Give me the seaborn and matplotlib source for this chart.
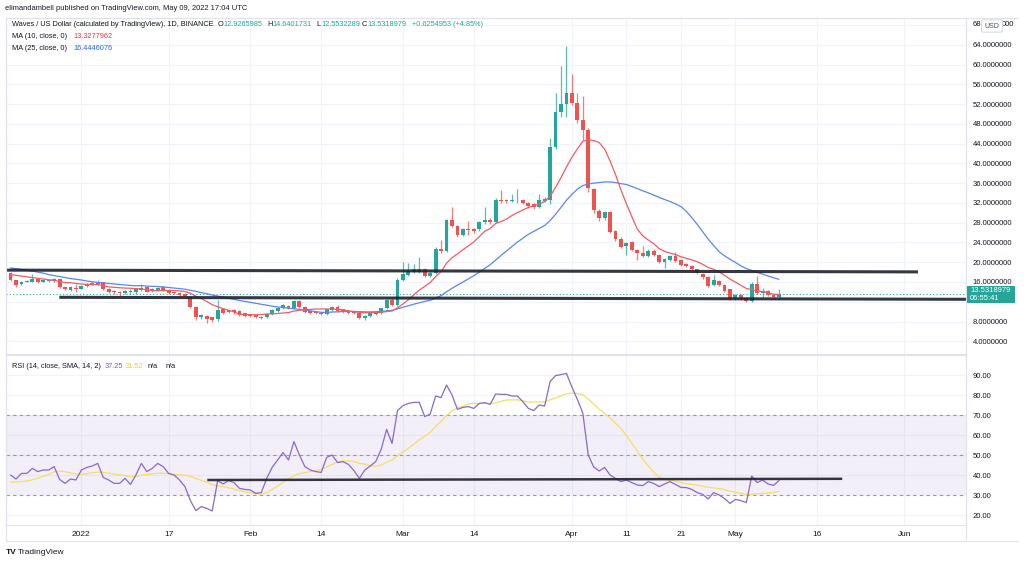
import numpy as np
import pandas as pd
import matplotlib
matplotlib.use("Agg")
import matplotlib.pyplot as plt
import seaborn as sns
from matplotlib.patches import Rectangle, FancyBboxPatch
from matplotlib.lines import Line2D

# ---------------- data (daily WAVES/USD candles, Dec 19 2021 .. May 09 2022) ----------------
start_date = "2021-12-19"
end_date = "2022-05-09"

opens = [
    17.75, 16.4, 15.5, 16.0, 16.1, 16.6, 16.05, 16.3, 16.3, 16.55,
    14.9, 14.4, 14.75, 14.65, 15.2, 15.55, 15.6, 15.95, 14.5, 14.2,
    13.9, 13.7, 13.97, 13.9, 14.4, 14.9, 14.2, 14.4, 14.9, 14.3,
    14.0, 13.8, 13.5, 12.9, 11.0, 9.0, 9.1, 8.85, 8.45, 10.45,
    9.9, 10.3, 10.2, 9.65, 9.45, 9.3, 8.8, 8.98, 9.5, 10.2,
    10.7, 11.15, 10.65, 12.2, 11.0, 10.2, 10.0, 9.8, 9.5, 10.35,
    10.9, 10.45, 10.2, 10.0, 9.8, 8.65, 9.1, 9.5, 9.8, 10.65,
    12.45, 11.4, 16.4, 17.4, 18.1, 18.1, 18.55, 17.3, 17.9, 22.6,
    22.35, 28.55, 27.4, 25.5, 26.7, 26.65, 26.65, 28.1, 28.55, 28.1,
    32.7, 32.6, 32.45, 32.5, 32.6, 32.06, 31.8, 31.25, 32.45, 32.6,
    43.3, 50.5, 52.0, 54.3, 52.2, 48.8, 46.8, 34.8, 30.4, 28.9,
    30.2, 26.4, 24.8, 23.3, 24.15, 22.5, 21.8, 21.3, 22.35, 21.5,
    20.1, 20.45, 21.25, 20.45, 19.6, 19.24, 18.57, 17.6, 17.08, 15.4,
    16.27, 15.39, 14.5, 12.7, 13.37, 12.7, 12.2, 15.6, 13.85, 14.2,
    13.37, 12.9265985,
]
highs = [
    18.1, 16.5, 16.2, 16.4, 17.6, 16.8, 16.6, 16.6, 16.9, 16.7,
    15.0, 15.1, 15.6, 15.4, 15.8, 16.0, 16.5, 16.1, 14.7, 14.4,
    14.1, 14.4, 14.6, 14.7, 15.6, 15.1, 14.7, 14.9, 15.1, 14.5,
    14.2, 13.9, 13.7, 13.2, 11.2, 9.6, 9.3, 9.0, 12.35, 10.6,
    10.4, 10.5, 10.3, 9.8, 9.6, 9.4, 9.2, 9.6, 10.5, 11.0,
    11.5, 11.4, 12.4, 12.4, 11.2, 10.4, 10.1, 9.9, 10.6, 11.2,
    11.4, 10.6, 10.3, 10.1, 9.9, 9.3, 9.8, 10.1, 10.8, 12.6,
    12.7, 16.8, 20.1, 19.8, 19.6, 21.1, 18.8, 18.2, 23.0, 24.5,
    28.8, 31.1, 27.6, 26.9, 28.4, 27.0, 28.3, 31.2, 28.9, 33.0,
    34.6, 32.9, 33.8, 34.9, 32.8, 32.2, 31.9, 33.9, 33.2, 45.1,
    54.3, 59.7, 63.8, 58.2, 54.2, 53.6, 47.2, 35.1, 30.7, 30.4,
    30.4, 26.6, 25.1, 24.1, 24.4, 22.7, 23.3, 22.6, 22.6, 21.7,
    20.8, 21.5, 22.1, 20.6, 19.8, 19.4, 18.7, 17.8, 17.3, 17.4,
    16.5, 15.5, 14.6, 13.6, 13.5, 12.9, 15.9, 17.2, 14.7, 14.4,
    13.5, 14.6401731,
]
lows = [
    16.2, 15.05, 15.3, 15.9, 16.0, 15.8, 15.9, 16.1, 16.1, 14.8,
    14.3, 14.2, 14.0, 14.5, 15.0, 15.3, 15.4, 14.3, 13.8, 13.6,
    13.2, 13.5, 13.6, 13.5, 14.2, 13.9, 14.0, 14.2, 14.1, 13.6,
    13.5, 13.1, 12.9, 10.7, 8.4, 8.6, 7.8, 8.0, 8.2, 9.6,
    9.7, 9.6, 9.1, 9.0, 9.0, 8.7, 8.5, 8.8, 9.4, 10.0,
    10.5, 10.5, 10.5, 10.8, 9.8, 9.6, 9.5, 9.3, 9.4, 10.2,
    10.0, 9.8, 9.6, 9.5, 8.5, 8.4, 9.0, 9.3, 9.6, 10.5,
    11.2, 11.2, 16.2, 17.2, 17.9, 17.9, 17.1, 17.0, 17.7, 21.9,
    22.0, 27.2, 25.2, 25.3, 25.5, 25.9, 26.3, 27.8, 27.8, 27.9,
    31.9, 32.0, 32.1, 32.0, 31.7, 30.9, 30.8, 31.0, 32.1, 31.8,
    43.0, 49.3, 49.3, 51.8, 48.2, 44.7, 34.3, 30.0, 28.4, 28.6,
    26.0, 24.4, 22.9, 21.5, 22.2, 20.5, 21.1, 21.1, 21.3, 19.9,
    18.8, 20.2, 20.1, 19.2, 19.0, 18.4, 17.6, 16.7, 14.9, 15.2,
    15.2, 14.0, 12.4, 12.3, 12.4, 12.0, 12.0, 13.6, 13.0, 13.2,
    12.6, 12.5532289,
]
closes = [
    16.4, 15.4, 16.0, 16.25, 16.6, 16.0, 16.4, 16.4, 16.6, 14.9,
    14.5, 14.9, 14.6, 15.2, 15.6, 15.85, 16.05, 14.5, 14.05, 13.9,
    13.7, 14.25, 14.24, 14.5, 14.85, 14.05, 14.5, 14.7, 14.25, 13.85,
    13.7, 13.35, 13.15, 10.9, 8.85, 9.3, 8.45, 8.3, 10.35, 9.8,
    10.25, 9.85, 9.3, 9.2, 9.2, 8.85, 9.0, 9.5, 10.35, 10.8,
    11.35, 10.65, 12.2, 11.0, 10.0, 9.8, 9.65, 9.5, 10.45, 10.9,
    10.2, 10.0, 9.8, 9.65, 8.65, 9.1, 9.65, 10.0, 10.65, 12.4,
    11.4, 16.4, 17.6, 18.3, 18.55, 18.55, 17.3, 17.9, 22.6, 22.3,
    28.55, 27.4, 25.5, 26.65, 26.55, 26.4, 28.1, 28.55, 28.1, 32.7,
    32.45, 32.45, 32.6, 32.6, 31.9, 31.4, 31.25, 32.7, 32.9, 43.3,
    50.5, 52.0, 54.3, 52.2, 48.7, 46.8, 35.0, 30.6, 28.9, 30.2,
    26.2, 24.8, 23.15, 23.95, 22.5, 21.8, 21.3, 22.35, 21.5, 20.1,
    20.6, 21.25, 20.3, 19.45, 19.25, 18.57, 17.76, 16.95, 15.19, 16.4,
    15.39, 14.25, 12.7, 13.37, 12.7, 12.2, 15.6, 13.85, 14.25, 13.37,
    12.9265985, 13.5318979,
]
# MA values at the start of the window (before the rolling window fills)
ma10_head = [17.5, 17.35, 17.2, 17.05, 16.9, 16.75, 16.6, 16.45, 16.35]
ma25_head = [18.85, 18.7, 18.55, 18.4, 18.2, 18.0, 17.8, 17.5, 17.3, 17.1, 16.9, 16.7,
             16.55, 16.4, 16.2, 16.05, 15.9, 15.8, 15.7, 15.6, 15.5, 15.4, 15.3, 15.25]

rsi = [
    40, 38, 40.8, 40.8, 43.3, 41.7, 42.5, 42.5, 44.2, 37.8,
    35.8, 38, 37.5, 42.5, 43.8, 44.5, 45.8, 38.8, 37.5, 35.8,
    35.8, 38.3, 35.3, 40, 45.8, 41.7, 43.3, 45.8, 44.2, 40.8,
    40, 37.5, 34.2, 27.2, 22.2, 24.2, 23.3, 22, 37.2, 35.5,
    37.2, 36.2, 33.3, 32.8, 32.5, 30.8, 31.2, 38.3, 43.8, 47.5,
    51.2, 47.5, 56.7, 50, 44.2, 42.5, 41.7, 41.3, 48.8, 50,
    46.2, 46.7, 45.3, 42.2, 38.3, 42.5, 44.5, 46.7, 52.8, 62.8,
    55.8, 72.2, 74.7, 75.8, 76.3, 76.3, 69.2, 70.5, 79.5, 78.7,
    85, 80, 72.8, 73.8, 74.2, 73.3, 75.8, 76.2, 75.3, 80.5,
    80.3, 80.3, 79.5, 79.5, 76.7, 73.3, 72.2, 75, 74.5, 86.7,
    89.7, 90.2, 90.8, 84, 77.8, 71, 50, 44, 42, 43.8,
    40, 38.3, 36.7, 37.5, 36.2, 35, 34.7, 36.7, 35.8, 34.2,
    35.5, 36.7, 35.3, 33.8, 33.7, 32.8, 31.2, 30.3, 28, 31.2,
    30, 28.3, 25.8, 27.8, 27.2, 26.2, 39.5, 36.2, 37.5, 35.5,
    34.8, 37.25,
]
rsi_ma_head = [36.4, 36.5, 36.7, 37.0, 37.6, 38.4, 39.3, 40.4, 41.6, 42.0, 41.7, 41.0, 40.5]

tick_dates = ["2022-01-01", "2022-01-17", "2022-02-01", "2022-02-14", "2022-03-01", "2022-03-14",
              "2022-04-01", "2022-04-11", "2022-04-21", "2022-05-01", "2022-05-16", "2022-06-01"]
tick_labels = ["2022", "17", "Feb", "14", "Mar", "14", "Apr", "11", "21", "May", "16", "Jun"]
price_ticks = [4, 8, 16, 20, 24, 28, 32, 36, 40, 44, 48, 52, 56, 60, 64]
price_grid = [4, 8, 12, 16, 20, 24, 28, 32, 36, 40, 44, 48, 52, 56, 60, 64, 68]
rsi_ticks = [20, 30, 40, 50, 60, 70, 80, 90]

# drawn trend lines (days from 2022-01-01, price / RSI)
resistance_x, resistance_y = [-13.8, 153.5], [18.4, 18.05]
support_x, support_y = [-4.05, 162.4], [12.9, 12.5]
rsi_line_x, rsi_line_y = [23.1, 139.6], [37.5, 38.1]

# ---------------- style ----------------
GREEN = "#26a69a"
RED = "#ef5350"
MA10_C = "#f25c63"
MA25_C = "#5a86f0"
RSI_C = "#7e57c2"
RSIMA_C = "#f3df62"
TXT = "#131722"
GRID = "#f0f3fa"
BORDER = "#e0e3eb"
LINE_C = "#1e222d"
FS = 5.3

sns.set_theme(style="white")
plt.rcParams["font.family"] = ["Liberation Sans", "DejaVu Sans"]

W, H = 1024, 565
fig = plt.figure(figsize=(W / 100, H / 100), dpi=100)
fig.patch.set_facecolor("white")


def rect(x0, y0, x1, y1):
    return [x0 / W, 1 - y1 / H, (x1 - x0) / W, (y1 - y0) / H]


PL, PR = 6, 966
axp = fig.add_axes(rect(PL, 18, PR, 354))
axr = fig.add_axes(rect(PL, 355, PR, 525))

dates = pd.date_range(start_date, end_date, freq="D")
x = (dates - pd.Timestamp("2022-01-01")).days.to_numpy().astype(float)
o, hgh, low, c = (np.asarray(v, float) for v in (opens, highs, lows, closes))

X_LEFT = (PL - 81.4) / 5.45
X_RIGHT = (PR - 81.4) / 5.45
tick_x = (pd.to_datetime(tick_dates) - pd.Timestamp("2022-01-01")).days.to_numpy()

# ---------------- price pane ----------------
axp.set_facecolor("white")
for t in price_grid:
    axp.axhline(t, color=GRID, lw=0.8, zorder=0)
for t in tick_x:
    axp.axvline(t, color=GRID, lw=0.8, zorder=0)

up = c >= o
cols = np.where(up, GREEN, RED)
axp.vlines(x, low, hgh, colors=cols, lw=0.9, alpha=0.75, zorder=2)
body_b = np.minimum(o, c)
body_h = np.maximum(np.abs(c - o), 0.12)
axp.bar(x, body_h, bottom=body_b, width=0.7, color=cols, linewidth=0, zorder=3)

ser = pd.Series(c)
ma10 = ser.rolling(10).mean().to_numpy()
ma10[:len(ma10_head)] = ma10_head
ma25 = ser.rolling(25).mean().to_numpy()
ma25[:len(ma25_head)] = ma25_head
sns.lineplot(x=x, y=ma25, ax=axp, color=MA25_C, lw=0.9, zorder=4)
sns.lineplot(x=x, y=ma10, ax=axp, color=MA10_C, lw=0.9, zorder=4)

axp.plot(resistance_x, resistance_y, color=LINE_C, lw=2.2, alpha=0.9, zorder=5, solid_capstyle="butt")
axp.plot(support_x, support_y, color=LINE_C, lw=2.2, alpha=0.9, zorder=5, solid_capstyle="butt")
axp.axhline(c[-1], color=GREEN, lw=0.8, ls=(0, (1, 2)), zorder=1)

axp.set_xlim(X_LEFT, X_RIGHT)
axp.set_ylim(16 - (354 - 282) / 4.94, 16 + (282 - 18) / 4.94)
axp.yaxis.tick_right()
axp.set_yticks(price_ticks)
axp.set_yticklabels([f"{v:.7f}" for v in price_ticks])
axp.tick_params(axis="y", length=0, pad=5, labelsize=5.5, labelcolor=TXT)
axp.set_xticks([])
axp.set_xlabel("")
axp.set_ylabel("")
for s in axp.spines.values():
    s.set_color(BORDER)
    s.set_linewidth(0.8)

# ---------------- RSI pane ----------------
axr.set_facecolor("white")
for t in rsi_ticks:
    axr.axhline(t, color=GRID, lw=0.8, zorder=0)
for t in tick_x:
    axr.axvline(t, color=GRID, lw=0.8, zorder=0)
axr.axhspan(30, 70, color=RSI_C, alpha=0.09, lw=0, zorder=0.5)
for lvl in (70, 50, 30):
    axr.axhline(lvl, color="#9598a1", lw=0.8, ls=(0, (3, 3)), zorder=1)

rsi_arr = np.asarray(rsi, float)
rsi_ma = pd.Series(rsi_arr).rolling(14).mean().to_numpy()
rsi_ma[:len(rsi_ma_head)] = rsi_ma_head
sns.lineplot(x=x, y=rsi_ma, ax=axr, color=RSIMA_C, lw=0.9, zorder=3)
sns.lineplot(x=x, y=rsi_arr, ax=axr, color="#8a68c9", lw=0.9, zorder=4)
axr.plot(rsi_line_x, rsi_line_y, color=LINE_C, lw=1.8, alpha=0.9, zorder=5, solid_capstyle="butt")

axr.set_xlim(X_LEFT, X_RIGHT)
axr.set_ylim(15, 100)
axr.yaxis.tick_right()
axr.set_yticks(rsi_ticks)
axr.set_yticklabels([f"{v:.2f}" for v in rsi_ticks])
axr.tick_params(axis="y", length=0, pad=5, labelsize=5.5, labelcolor=TXT)
axr.set_xticks(tick_x)
axr.set_xticklabels(tick_labels)
axr.tick_params(axis="x", length=0, pad=4, labelsize=6.0, labelcolor=TXT)
axr.set_xlabel("")
axr.set_ylabel("")
for s in axr.spines.values():
    s.set_color(BORDER)
    s.set_linewidth(0.8)

# frame lines
fig.add_artist(Line2D([PR / W, PR / W], [1 - 541 / H, 1 - 18 / H], color=BORDER, lw=0.8))
fig.add_artist(Line2D([PL / W, 1018 / W], [1 - 541 / H, 1 - 541 / H], color=BORDER, lw=0.8))
fig.add_artist(Line2D([PL / W, 1018 / W], [1 - 18 / H, 1 - 18 / H], color=BORDER, lw=0.8))
fig.add_artist(Line2D([PL / W, PL / W], [1 - 541 / H, 1 - 18 / H], color=BORDER, lw=0.8))


def ftext(xpx, ypx, s, **kw):
    kw.setdefault("fontsize", FS)
    kw.setdefault("va", "center")
    return fig.text(xpx / W, 1 - ypx / H, s, **kw)


# ---------------- header texts ----------------
ftext(5, 9, "elimandambell published on TradingView.com, May 09, 2022 17:04 UTC", color=TXT, fontsize=5.4)
ftext(12, 25, "Waves / US Dollar (calculated by TradingView), 1D, BINANCE", color=TXT)
for lab, val, xp in (("O", "12.9265985", 218), ("H", "14.6401731", 267),
                     ("L", "12.5532289", 316), ("C", "13.5318979", 362)):
    ftext(xp, 25, lab, color=TXT)
    ftext(xp + 5, 25, val, color=GREEN)
ftext(412, 25, "+0.6254953 (+4.85%)", color=GREEN)
ftext(12, 37, "MA (10, close, 0)", color=TXT)
ftext(73, 37, "13.3277962", color="#f23645")
ftext(12, 48, "MA (25, close, 0)", color=TXT)
ftext(73, 48, "16.4446076", color="#2962ff")
ftext(12, 367, "RSI (14, close, SMA, 14, 2)", color=TXT)
ftext(105, 367, "37.25", color=RSI_C)
ftext(125, 367, "31.52", color="#e8c93a")
ftext(148, 367, "n/a", color=TXT)
ftext(166, 367, "n/a", color=TXT)

# top price label, partly covered by the USD badge as in the original
ftext(973, 25, "68.", color=TXT, fontsize=5.5)
ftext(1002, 25, "000", color=TXT, fontsize=5.5)
fig.add_artist(FancyBboxPatch((983.5 / W, 1 - 31 / H), 17 / W, 10 / H, transform=fig.transFigure,
                              boxstyle="round,pad=0.002", facecolor="white", edgecolor="#d1d4dc",
                              lw=0.6, zorder=5))
ftext(992, 26, "USD", color="#50535e", fontsize=5.0, ha="center", zorder=6)

# last price label
fig.add_artist(Rectangle((967 / W, 1 - 303 / H), 48 / W, 17 / H, transform=fig.transFigure,
                         facecolor=GREEN, edgecolor="none", zorder=5))
ftext(970, 290, f"{c[-1]:.7f}", color="white", fontsize=5.5, zorder=6)
ftext(970, 299, "06:55:41", color="white", fontsize=5.5, zorder=6)

# TradingView logo text
ftext(6, 552, "TV", color=TXT, fontsize=6, fontweight="bold")
ftext(18, 552, "TradingView", color=TXT, fontsize=6)

fig.savefig("out.png", dpi=100, facecolor="white")
